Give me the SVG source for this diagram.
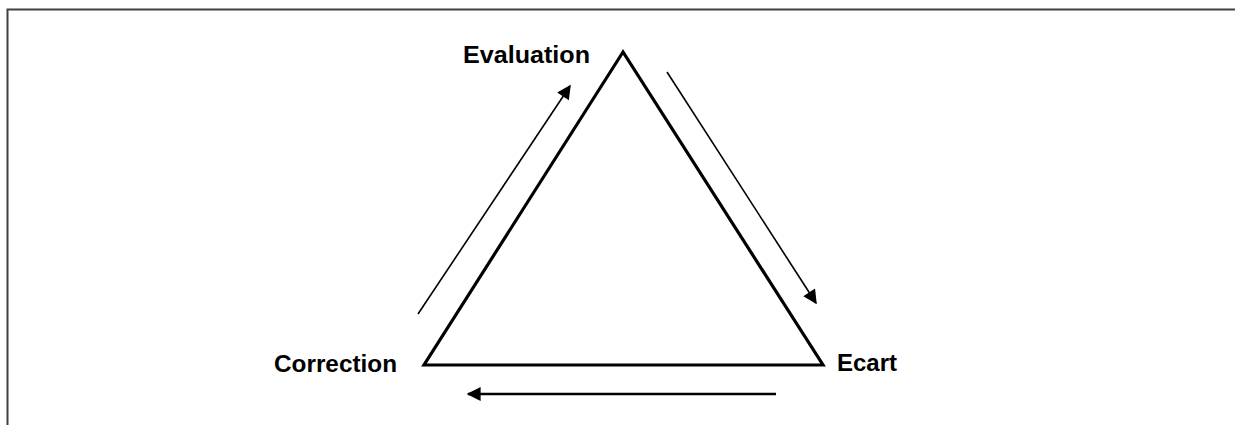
<svg xmlns="http://www.w3.org/2000/svg" width="1235" height="425" viewBox="0 0 1235 425">
<style>
.lbl{font-family:"Liberation Sans",Arial,sans-serif;font-weight:bold;font-size:23px;fill:#000}
.arr{stroke:#000;fill:none}
</style>
<defs>
<marker id="ah" viewBox="0 0 10 10" refX="9" refY="5" markerWidth="15" markerHeight="14" markerUnits="userSpaceOnUse" orient="auto">
<path d="M0,0 L10,5 L0,10 z" fill="#000"/>
</marker>
<marker id="ahs" viewBox="0 0 10 10" refX="9" refY="5" markerWidth="17" markerHeight="14" markerUnits="userSpaceOnUse" orient="auto">
<path d="M0,0 L10,5 L0,10 z" fill="#000"/>
</marker>
</defs>
<rect width="1235" height="425" fill="#fff"/>
<g id="frame">
<path d="M7.5,425 V9.5 H1235" fill="none" stroke="#404040" stroke-width="2"/>
</g>
<g id="triangle">
<polygon points="623,52 424,365 823,365" fill="none" stroke="#000" stroke-width="3.2" stroke-linejoin="miter"/>
</g>
<g id="node-evaluation"><text class="lbl" x="463" y="63" textLength="127" lengthAdjust="spacingAndGlyphs">Evaluation</text></g>
<g id="node-correction"><text class="lbl" x="274" y="372" textLength="123" lengthAdjust="spacingAndGlyphs">Correction</text></g>
<g id="node-ecart"><text class="lbl" x="837" y="371" textLength="60" lengthAdjust="spacingAndGlyphs">Ecart</text></g>
<g id="connectors">
<line class="arr" x1="418" y1="314" x2="570" y2="86" stroke-width="1.6" marker-end="url(#ahs)"/>
<line class="arr" x1="667" y1="72" x2="816" y2="303" stroke-width="1.6" marker-end="url(#ahs)"/>
<line class="arr" x1="776" y1="394" x2="468" y2="394" stroke-width="2.5" marker-end="url(#ah)"/>
</g>
</svg>
